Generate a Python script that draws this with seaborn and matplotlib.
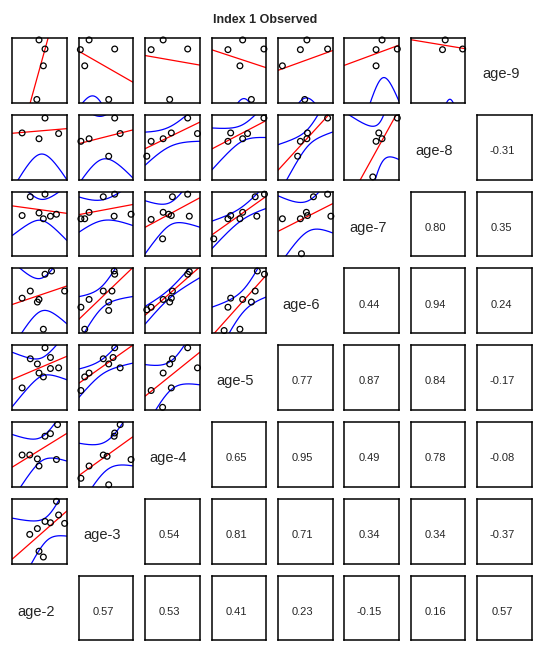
import numpy as np
import pandas as pd
import seaborn as sns
import matplotlib.pyplot as plt

sns.set_style("white")
plt.rcParams['font.family'] = ['Liberation Sans', 'DejaVu Sans']

# variable names, bottom row -> top row
ages = ['age-2', 'age-3', 'age-4', 'age-5', 'age-6', 'age-7', 'age-8', 'age-9']

# correlations (lower right), rows from top, columns from the first filled one
corr_age8 = [-0.31]
corr_age7 = [0.80, 0.35]
corr_age6 = [0.44, 0.94, 0.24]
corr_age5 = [0.77, 0.87, 0.84, -0.17]
corr_age4 = [0.65, 0.95, 0.49, 0.78, -0.08]
corr_age3 = [0.54, 0.81, 0.71, 0.34, 0.34, -0.37]
corr_age2 = [0.57, 0.53, 0.41, 0.23, -0.15, 0.16, 0.57]

# scatter points (scaled to the panel range), one list per x variable from age-2
pts_age9 = [
    [(0.49, 0.97), (0.60, 0.83), (0.57, 0.57), (0.45, 0.05)],
    [(0.19, 0.97), (0.03, 0.82), (0.11, 0.57), (0.55, 0.05), (0.66, 0.83)],
    [(0.33, 0.97), (0.11, 0.82), (0.78, 0.83), (0.45, 0.05)],
    [(0.57, 0.97), (0.30, 0.82), (0.96, 0.83), (0.52, 0.57), (0.73, 0.05)],
    [(0.53, 0.97), (0.41, 0.82), (0.91, 0.83), (0.08, 0.57), (0.49, 0.05)],
    [(0.69, 0.97), (0.58, 0.82), (0.97, 0.83), (0.58, 0.57)],
    [(0.63, 0.97), (0.58, 0.82), (0.95, 0.83)],
]
pts_age8 = [
    [(0.60, 0.95), (0.18, 0.72), (0.49, 0.63), (0.85, 0.71)],
    [(0.66, 0.95), (0.19, 0.63), (0.04, 0.59), (0.76, 0.71), (0.55, 0.36)],
    [(0.78, 0.95), (0.48, 0.72), (0.33, 0.63), (0.11, 0.59), (0.96, 0.71), (0.03, 0.36)],
    [(0.96, 0.95), (0.35, 0.72), (0.30, 0.59), (0.57, 0.63), (0.66, 0.71)],
    [(0.91, 0.95), (0.54, 0.72), (0.41, 0.59), (0.53, 0.63), (0.36, 0.36)],
    [(0.97, 0.95), (0.63, 0.72), (0.58, 0.59), (0.69, 0.63), (0.52, 0.04)],
]
pts_age7 = [
    [(0.60, 0.96), (0.33, 0.92), (0.18, 0.63), (0.49, 0.67), (0.57, 0.58), (0.70, 0.62), (0.81, 0.65)],
    [(0.66, 0.96), (0.45, 0.92), (0.19, 0.68), (0.04, 0.58), (0.11, 0.58), (0.65, 0.62), (0.96, 0.65)],
    [(0.78, 0.96), (0.50, 0.92), (0.33, 0.68), (0.43, 0.65), (0.48, 0.63), (0.11, 0.57),
     (0.81, 0.62), (0.32, 0.27)],
    [(0.97, 0.96), (0.80, 0.92), (0.35, 0.63), (0.30, 0.58), (0.57, 0.68), (0.52, 0.58),
     (0.83, 0.62), (0.04, 0.27)],
    [(0.91, 0.96), (0.65, 0.92), (0.52, 0.68), (0.54, 0.63), (0.41, 0.58), (0.97, 0.62),
     (0.08, 0.58), (0.43, 0.04)],
]
pts_age6 = [
    [(0.72, 0.96), (0.60, 0.91), (0.33, 0.65), (0.18, 0.54), (0.46, 0.48), (0.49, 0.52),
     (0.96, 0.65), (0.57, 0.06)],
    [(0.65, 0.96), (0.66, 0.91), (0.45, 0.65), (0.61, 0.65), (0.19, 0.52), (0.55, 0.48),
     (0.04, 0.40), (0.55, 0.35), (0.11, 0.06)],
    [(0.81, 0.95), (0.78, 0.91), (0.50, 0.65), (0.33, 0.52), (0.48, 0.54), (0.45, 0.48),
     (0.11, 0.40), (0.03, 0.36)],
    [(0.84, 0.96), (0.97, 0.91), (0.35, 0.54), (0.30, 0.40), (0.57, 0.52), (0.73, 0.48),
     (0.80, 0.65), (0.23, 0.04), (0.52, 0.06)],
]
pts_age5 = [
    [(0.60, 0.96), (0.33, 0.79), (0.46, 0.71), (0.70, 0.81), (0.49, 0.57), (0.57, 0.51),
     (0.70, 0.64), (0.85, 0.65), (0.18, 0.34)],
    [(0.66, 0.96), (0.45, 0.79), (0.63, 0.81), (0.55, 0.71), (0.19, 0.57), (0.11, 0.51),
     (0.76, 0.65), (0.04, 0.30)],
    [(0.78, 0.96), (0.50, 0.79), (0.45, 0.71), (0.33, 0.57), (0.96, 0.65), (0.11, 0.30),
     (0.48, 0.34), (0.32, 0.04)],
]
pts_age4 = [
    [(0.83, 0.96), (0.60, 0.78), (0.70, 0.82), (0.18, 0.49), (0.32, 0.49), (0.46, 0.43),
     (0.49, 0.32), (0.81, 0.42)],
    [(0.76, 0.96), (0.66, 0.83), (0.65, 0.78), (0.45, 0.49), (0.52, 0.47), (0.96, 0.42),
     (0.19, 0.32), (0.04, 0.13), (0.55, 0.03)],
]
pts_age3 = [
    [(0.81, 0.96), (0.85, 0.75), (0.96, 0.62), (0.60, 0.65), (0.70, 0.63), (0.46, 0.54),
     (0.32, 0.45), (0.49, 0.19), (0.57, 0.10)],
]

scatter_rows = [pts_age9, pts_age8, pts_age7, pts_age6, pts_age5, pts_age4, pts_age3, []]
corr_rows = [[], corr_age8, corr_age7, corr_age6, corr_age5, corr_age4, corr_age3, corr_age2]

# 97.5% t quantiles by degrees of freedom
t975 = {1: 12.706, 2: 4.303, 3: 3.182, 4: 2.776, 5: 2.571, 6: 2.447, 7: 2.365, 8: 2.306}

W, H = 544, 653
fig = plt.figure(figsize=(W / 100, H / 100), dpi=100)
fig.text(265 / W, 1 - 20 / H, "Index 1 Observed", ha='center', va='center',
         fontsize=9, fontweight='bold')


def panel(i, j):
    left = 12.3 + 66.43 * j
    top = 38 + 76.8 * i
    ax = fig.add_axes([left / W, 1 - (top + 64.7) / H, 54.5 / W, 64.7 / H])
    ax.set_xlim(0, 1)
    ax.set_ylim(0, 1)
    ax.set_xticks([])
    ax.set_yticks([])
    for sp in ax.spines.values():
        sp.set_color('black')
        sp.set_linewidth(1.1)
    return ax


def scatter_panel(ax, pts):
    d = pd.DataFrame(pts, columns=['x', 'y'])
    n = len(d)
    grid = np.linspace(0, 1, 200)
    b, a = np.polyfit(d['x'], d['y'], 1)
    fit = a + b * grid
    resid = d['y'] - (a + b * d['x'])
    s = np.sqrt((resid ** 2).sum() / (n - 2))
    sxx = ((d['x'] - d['x'].mean()) ** 2).sum()
    half = t975[n - 2] * s * np.sqrt(1 / n + (grid - d['x'].mean()) ** 2 / sxx)
    sns.lineplot(x=grid, y=fit - half, color='blue', lw=0.9, ax=ax)
    sns.lineplot(x=grid, y=fit + half, color='blue', lw=0.9, ax=ax)
    sns.lineplot(x=grid, y=fit, color='red', lw=0.9, ax=ax)
    sns.scatterplot(data=d, x='x', y='y', ax=ax, s=17, marker='o',
                    facecolors='none', edgecolor='black', linewidth=0.9,
                    clip_on=False, zorder=5, legend=False)
    ax.set_xlim(0, 1)
    ax.set_ylim(0, 1)
    ax.set_xlabel('')
    ax.set_ylabel('')


for i in range(8):
    diag = 7 - i
    for j in range(8):
        ax = panel(i, j)
        if j < diag:
            scatter_panel(ax, scatter_rows[i][j])
        elif j == diag:
            for sp in ax.spines.values():
                sp.set_visible(False)
            ax.text(0.43, 0.44, ages[j], ha='center', va='center', fontsize=10.5,
                    transform=ax.transAxes)
        else:
            r = corr_rows[i][j - diag - 1]
            ax.text(0.45, 0.44, f"{r:.2f}", ha='center', va='center', fontsize=8,
                    transform=ax.transAxes)

fig.savefig("out.png", dpi=100)
